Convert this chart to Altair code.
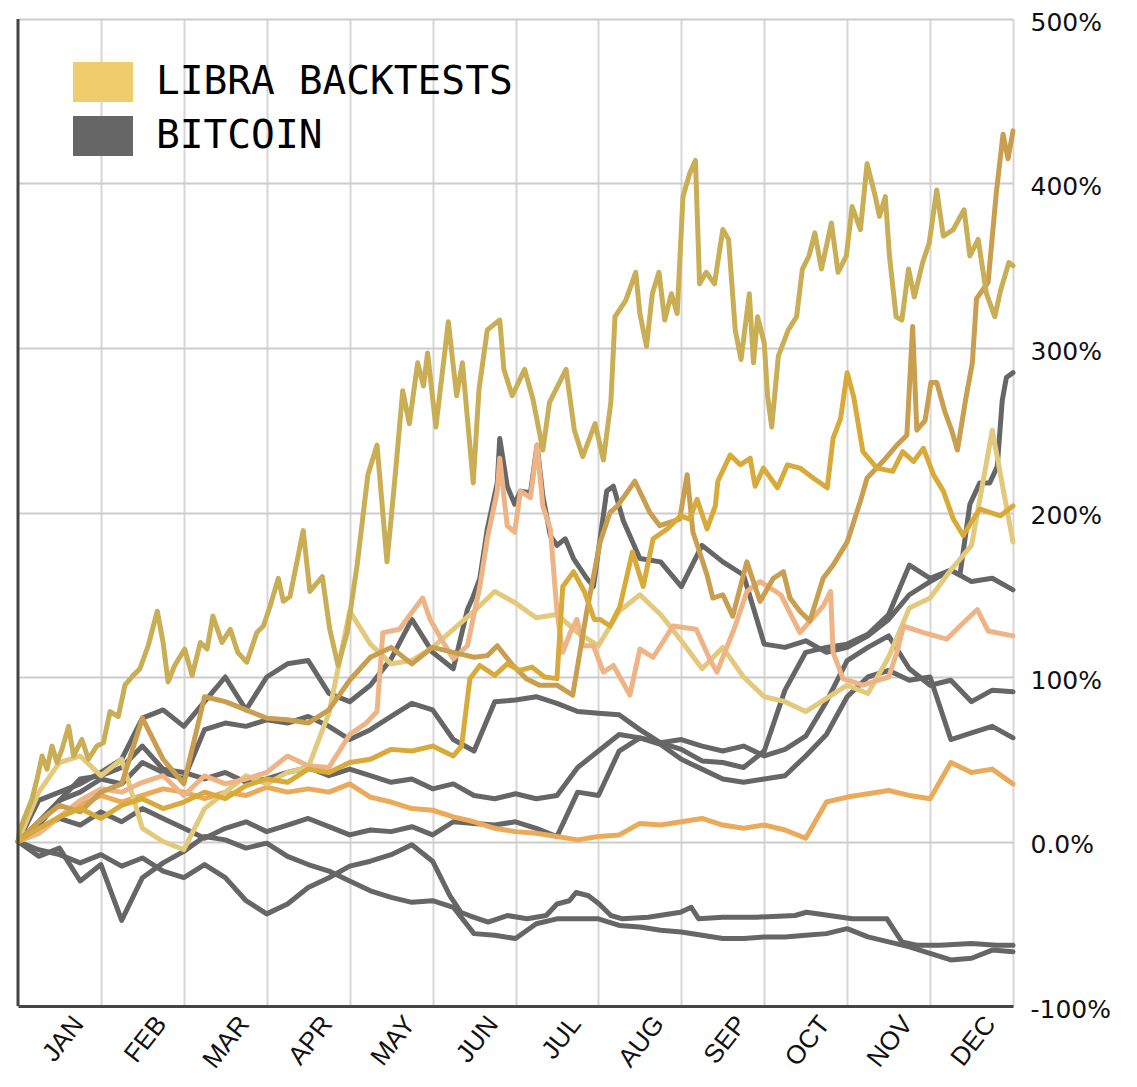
import altair as alt
import pandas as pd

# ---------------- data ----------------
months = [i / 4 for i in range(49)]          # month position, 0 = start of year, 12 = end
month_labels = ["JAN", "FEB", "MAR", "APR", "MAY", "JUN",
                "JUL", "AUG", "SEP", "OCT", "NOV", "DEC"]
y_ticks = [-100, 0, 100, 200, 300, 400, 500]

# ---- Libra backtests (% return) ----
khaki_m = [0, 0.02, 0.17, 0.23, 0.29, 0.35, 0.41, 0.47, 0.53, 0.61, 0.67, 0.77, 0.85, 0.95, 1.03,
           1.11, 1.21, 1.29, 1.39, 1.47, 1.57, 1.68, 1.75, 1.81, 1.89, 2.01, 2.10, 2.20, 2.28, 2.35,
           2.46, 2.56, 2.65, 2.76, 2.88, 2.96, 3.04, 3.14, 3.20, 3.28, 3.44, 3.52, 3.67, 3.76, 3.86,
           3.97, 4.09, 4.22, 4.33, 4.45, 4.55, 4.64, 4.72, 4.82, 4.89, 4.94, 5.04, 5.19, 5.29, 5.36,
           5.49, 5.56, 5.66, 5.81, 5.86, 5.96, 6.11, 6.21, 6.33, 6.41, 6.61, 6.71, 6.81, 6.96, 7.06,
           7.15, 7.20, 7.33, 7.45, 7.50, 7.58, 7.65, 7.73, 7.80, 7.88, 7.95, 8.02, 8.10, 8.17, 8.22,
           8.30, 8.40, 8.50, 8.57, 8.65, 8.72, 8.82, 8.87, 8.92, 9.00, 9.04, 9.09, 9.17, 9.29, 9.39,
           9.46, 9.54, 9.61, 9.69, 9.81, 9.89, 9.99, 10.06, 10.16, 10.24, 10.34, 10.39, 10.46, 10.51,
           10.59, 10.66, 10.74, 10.81, 10.91, 10.99, 11.08, 11.16, 11.28, 11.41, 11.48, 11.58, 11.68,
           11.78, 11.85, 11.95, 12.0]
khaki_v = [0, 7, 26, 38, 52, 44, 58, 48, 56, 70, 52, 62, 50, 58, 60, 79, 76, 95, 101, 105, 119,
           140, 121, 97, 107, 117, 101, 121, 117, 137, 121, 129, 115, 109, 127, 131, 143, 160, 146,
           149, 189, 152, 161, 129, 107, 127, 168, 223, 241, 170, 223, 274, 254, 291, 277, 297, 252,
           316, 271, 291, 218, 275, 311, 317, 287, 271, 287, 269, 238, 267, 287, 250, 234, 254, 232,
           267, 319, 329, 346, 321, 301, 333, 346, 317, 333, 321, 392, 406, 414, 339, 346, 339, 372,
           366, 311, 293, 333, 291, 319, 303, 271, 252, 295, 311, 319, 348, 356, 370, 348, 376, 346,
           356, 386, 372, 412, 392, 380, 392, 356, 319, 317, 348, 331, 352, 364, 396, 368, 372, 384,
           356, 366, 333, 319, 335, 352, 350]

mustard_m = [0, 0.25, 0.5, 0.75, 1.0, 1.25, 1.5, 1.75, 2.0, 2.25, 2.5, 2.75, 3.0, 3.25, 3.5, 3.75,
             4.0, 4.25, 4.5, 4.75, 5.0, 5.25, 5.35, 5.45, 5.57, 5.75, 5.9, 6.05, 6.2, 6.35, 6.5,
             6.57, 6.7, 6.83, 6.95, 7.02, 7.14, 7.26, 7.41, 7.54, 7.66, 7.83, 7.99, 8.1, 8.19, 8.31,
             8.41, 8.44, 8.59, 8.71, 8.83, 8.89, 8.99, 9.16, 9.28, 9.43, 9.59, 9.76, 9.83, 9.92,
             10.0, 10.08, 10.19, 10.36, 10.55, 10.67, 10.8, 10.92, 11.04, 11.16, 11.28, 11.4, 11.52,
             11.6, 11.85, 12.0]
mustard_v = [0, 8, 15, 20, 14, 22, 26, 20, 24, 30, 26, 34, 38, 36, 44, 42, 48, 50, 56, 55, 58,
             52, 58, 99, 107, 101, 108, 104, 106, 100, 99, 155, 164, 152, 135, 135, 131, 143, 176,
             155, 184, 190, 198, 196, 208, 190, 204, 219, 235, 229, 233, 216, 227, 215, 229, 227,
             221, 215, 245, 257, 285, 270, 237, 227, 225, 237, 231, 239, 223, 213, 196, 186, 196,
             202, 198, 204]

tan_m = [0, 0.25, 0.5, 0.75, 1.0, 1.25, 1.5, 1.75, 2.0, 2.25, 2.5, 2.75, 3.0, 3.25, 3.5, 3.75,
         4.0, 4.25, 4.5, 4.75, 5.0, 5.25, 5.5, 5.66, 5.78, 5.97, 6.13, 6.29, 6.5, 6.69, 6.86, 7.02,
         7.14, 7.23, 7.44, 7.62, 7.74, 7.98, 8.07, 8.14, 8.22, 8.31, 8.38, 8.5, 8.62, 8.79, 8.95,
         9.11, 9.23, 9.31, 9.43, 9.55, 9.71, 9.83, 10.0, 10.16, 10.24, 10.43, 10.6, 10.72, 10.79,
         10.84, 10.94, 11.01, 11.08, 11.18, 11.26, 11.33, 11.43, 11.51, 11.56, 11.7, 11.8, 11.88,
         11.94, 12.0]
tan_v = [0, 12, 22, 18, 30, 35, 75, 50, 35, 88, 85, 80, 75, 74, 72, 80, 98, 112, 118, 108, 118,
         115, 112, 113, 119, 107, 99, 95, 95, 89, 140, 182, 200, 204, 219, 200, 192, 196, 223, 188,
         176, 162, 148, 150, 137, 170, 146, 160, 164, 148, 140, 134, 160, 168, 182, 207, 221, 231,
         241, 247, 313, 250, 256, 279, 279, 261, 250, 238, 269, 291, 330, 340, 395, 430, 415, 432]

peach_m = [0, 0.25, 0.5, 0.75, 1.0, 1.25, 1.5, 1.75, 2.0, 2.25, 2.5, 2.75, 3.0, 3.25, 3.5, 3.75,
           4.0, 4.2, 4.33, 4.4, 4.6, 4.76, 4.88, 4.97, 5.13, 5.25, 5.42, 5.57, 5.66, 5.78, 5.81,
           5.9, 5.99, 6.06, 6.18, 6.26, 6.33, 6.42, 6.5, 6.57, 6.66, 6.74, 6.82, 6.94, 7.06, 7.18,
           7.38, 7.5, 7.66, 7.9, 8.18, 8.35, 8.43, 8.65, 8.79, 8.95, 9.2, 9.43, 9.71, 9.8, 9.83,
           9.95, 10.19, 10.5, 10.6, 10.68, 10.92, 11.2, 11.36, 11.57, 11.7, 12.0]
peach_v = [0, 5, 15, 25, 32, 30, 36, 40, 28, 40, 35, 38, 42, 52, 46, 45, 65, 72, 79, 127, 129,
           140, 148, 135, 121, 111, 119, 155, 184, 213, 233, 192, 188, 213, 209, 241, 204, 190,
           140, 115, 127, 135, 119, 119, 103, 107, 89, 117, 112, 131, 129, 110, 103, 131, 152, 158,
           150, 127, 143, 152, 115, 99, 95, 100, 115, 131, 127, 123, 131, 141, 128, 125]

light_v = [0, 30, 48, 52, 40, 50, 8, 0, -5, 20, 30, 40, 35, 42, 45, 78, 140, 120, 108, 110,
           118, 129, 140, 152, 145, 136, 138, 127, 119, 140, 150, 138, 122, 105, 118, 100,
           88, 85, 79, 87, 95, 90, 112, 142, 148, 165, 180, 250, 182]
orange_v = [0, 5, 15, 22, 28, 24, 28, 32, 30, 26, 30, 28, 33, 30, 32, 30, 35, 27, 24, 20,
            19, 15, 12, 8, 6, 5, 3, 1, 3, 4, 11, 10, 12, 14, 10, 8, 10, 7, 2, 24, 27, 29,
            31, 28, 26, 48, 42, 44, 35]

# ---- Bitcoin (% return) ----
btc_a_m = [0, 0.25, 0.5, 0.75, 1.0, 1.25, 1.5, 1.75, 2.0, 2.25, 2.5, 2.75, 3.0, 3.25, 3.5, 3.75,
           4.0, 4.25, 4.5, 4.75, 5.0, 5.25, 5.42, 5.49, 5.57, 5.66, 5.78, 5.81, 5.9, 5.99, 6.06,
           6.18, 6.26, 6.33, 6.42, 6.5, 6.6, 6.7, 6.86, 6.94, 7.02, 7.1, 7.18, 7.3, 7.5, 7.75, 8.0,
           8.25, 8.5, 8.75, 9.0, 9.25, 9.5, 9.75, 10.0, 10.25, 10.5, 10.75, 11.0, 11.25, 11.36,
           11.48, 11.6, 11.72, 11.81, 11.87, 11.92, 12.0]
btc_a_v = [0, 25, 30, 35, 42, 50, 75, 80, 70, 85, 100, 80, 100, 108, 110, 90, 85, 95, 111, 135,
           115, 105, 141, 149, 160, 190, 218, 245, 216, 205, 213, 212, 241, 210, 186, 180, 184,
           172, 160, 155, 184, 213, 216, 195, 172, 170, 155, 180, 170, 162, 120, 118, 122, 115,
           118, 125, 135, 150, 158, 165, 162, 205, 218, 218, 228, 268, 282, 285]
btc_b_v = [0, 10, 25, 38, 40, 45, 58, 44, 42, 38, 42, 36, 38, 42, 45, 40, 44, 40, 36, 38, 32, 35,
           28, 26, 29, 26, 28, 45, 55, 65, 63, 60, 56, 49, 48, 45, 55, 92, 115, 118, 120, 126,
           138, 168, 160, 165, 158, 160, 153]
btc_c_v = [0, 12, 25, 30, 38, 35, 48, 42, 38, 68, 72, 70, 74, 72, 76, 70, 62, 68, 76, 84, 80, 62,
           55, 85, 86, 88, 84, 79, 78, 77, 68, 60, 62, 58, 55, 58, 52, 56, 64, 85, 110, 118, 125,
           105, 95, 98, 85, 92, 91]
btc_d_v = [0, 8, 14, 10, 18, 12, 20, 14, 8, 2, 8, 12, 6, 10, 14, 9, 4, 7, 6, 9, 4, 12, 11, 10,
           12, 8, 3, 30, 28, 55, 63, 59, 50, 44, 38, 36, 38, 40, 52, 65, 88, 100, 104, 98, 100,
           62, 66, 70, 63]
btc_e_m = [0, 0.25, 0.5, 0.75, 1.0, 1.25, 1.5, 1.75, 2.0, 2.25, 2.5, 2.75, 3.0, 3.25, 3.5, 3.75,
           4.0, 4.25, 4.5, 4.75, 5.0, 5.21, 5.34, 5.44, 5.67, 5.9, 6.14, 6.37, 6.5, 6.65, 6.73,
           6.88, 7.01, 7.15, 7.29, 7.6, 7.99, 8.12, 8.21, 8.5, 8.91, 9.37, 9.51, 10.06, 10.48,
           10.57, 10.66, 10.84, 11.12, 11.5, 11.8, 12.0]
btc_e_v = [0, -5, -8, -13, -8, -15, -10, -18, -22, -14, -22, -36, -44, -38, -28, -22, -15, -12,
           -8, -2, -12, -33, -43, -45, -49, -45, -47, -45, -38, -36, -31, -33, -38, -45, -47, -46,
           -43, -40, -47, -46, -46, -45, -43, -47, -47, -54, -61, -63, -63, -62, -63, -63]
btc_f_v = [0, -9, -4, -24, -14, -48, -22, -13, -6, 3, 1, -4, -1, -9, -14, -18, -24, -30, -34,
           -37, -36, -40, -56, -57, -59, -50, -47, -47, -47, -51, -52, -54, -55, -57, -59, -59,
           -58, -58, -57, -56, -53, -58, -61, -64, -68, -72, -71, -66, -67]

libra_series = [
    ("l1_orange", months, orange_v, "#EBAA5A"),
    ("l2_light", months, light_v, "#E3C97C"),
    ("l3_peach", peach_m, peach_v, "#EFB485"),
    ("l4_tan", tan_m, tan_v, "#C99E4E"),
    ("l5_mustard", mustard_m, mustard_v, "#D8AA3A"),
    ("l6_khaki", khaki_m, khaki_v, "#C9AE55"),
]
btc_series = [
    ("b1", btc_a_m, btc_a_v),
    ("b2", months, btc_b_v),
    ("b3", months, btc_c_v),
    ("b4", months, btc_d_v),
    ("b5", btc_e_m, btc_e_v),
    ("b6", months, btc_f_v),
]

legend_groups = ["LIBRA BACKTESTS", "BITCOIN"]
legend_colors = ["#EFCC6C", "#666666"]


def long_table(series):
    rows = []
    for s in series:
        name, ms, vs = s[0], s[1], s[2]
        for m, v in zip(ms, vs):
            rows.append({"series": name, "month": m, "ret": v})
    return pd.DataFrame(rows)


libra_df = long_table(libra_series)
btc_df = long_table(btc_series)

# ---------------- encodings ----------------
x_enc = alt.X(
    "month:Q",
    scale=alt.Scale(domain=[0, 12], nice=False, zero=False),
    axis=alt.Axis(
        title=None,
        values=list(range(1, 13)),
        labelExpr=f"{month_labels}[datum.value - 1]",
        labelAngle=-52,
        labelFont="Liberation Sans",
        labelFontSize=26,
        labelColor="#111111",
        labelPadding=13,
        labelOffset=-23,
        ticks=False,
        grid=True,
        gridColor="#d6d6d6",
        gridWidth=2,
        domain=True,
        domainColor="#444444",
        domainWidth=3,
    ),
)
y_enc = alt.Y(
    "ret:Q",
    scale=alt.Scale(domain=[-100, 500], nice=False, zero=False),
    axis=alt.Axis(
        title=None,
        orient="right",
        values=y_ticks,
        labelExpr="datum.value == 0 ? '0.0%' : datum.value + '%'",
        labelFont="DejaVu Sans",
        labelFontSize=25,
        labelColor="#111111",
        labelPadding=17,
        labelOffset=3,
        ticks=False,
        domain=False,
        grid=True,
        gridColor="#cccccc",
        gridWidth=2,
    ),
)

btc_layer = alt.Chart(btc_df).mark_line(
    color="#666666", strokeWidth=5, strokeJoin="round", strokeCap="round"
).encode(x=x_enc, y=y_enc, detail="series:N")

libra_layer = alt.Chart(libra_df).mark_line(
    strokeWidth=5, strokeJoin="round", strokeCap="round"
).encode(
    x="month:Q",
    y="ret:Q",
    stroke=alt.Stroke(
        "series:N",
        scale=alt.Scale(domain=[s[0] for s in libra_series], range=[s[3] for s in libra_series]),
        legend=None,
    ),
)

left_line = alt.Chart(pd.DataFrame({"month": [0]})).mark_rule(
    color="#444444", strokeWidth=3
).encode(x="month:Q")

swatch = "M-1.5,-1H1.5V1H-1.5Z"
legend_layer = alt.Chart(
    alt.Data(values=[{"group": g, "month": None, "ret": None} for g in legend_groups])
).mark_point(filled=True, shape=swatch, size=1600, opacity=1).encode(
    x="month:Q",
    y="ret:Q",
    fill=alt.Fill(
        "group:N",
        scale=alt.Scale(domain=legend_groups, range=legend_colors),
        legend=alt.Legend(
            title=None,
            orient="none",
            legendX=65,
            legendY=43,
            padding=0,
            symbolType=swatch,
            symbolSize=1600,
            symbolStrokeWidth=0,
            symbolOpacity=1,
            labelFont="DejaVu Sans Mono",
            labelFontSize=39.5,
            labelColor="#000000",
            labelOffset=33,
            labelLimit=900,
            rowPadding=14,
        ),
    ),
)

chart = (
    alt.layer(btc_layer, libra_layer, left_line, legend_layer)
    .properties(
        width=995,
        height=987,
        autosize=alt.AutoSizeParams(type="none"),
        padding={"left": 10, "top": 11, "right": 110, "bottom": 70},
    )
    .configure_view(stroke=None)
    .configure(background="#ffffff")
)

chart.save("out.html", embed_options={"renderer": "svg", "actions": False})
